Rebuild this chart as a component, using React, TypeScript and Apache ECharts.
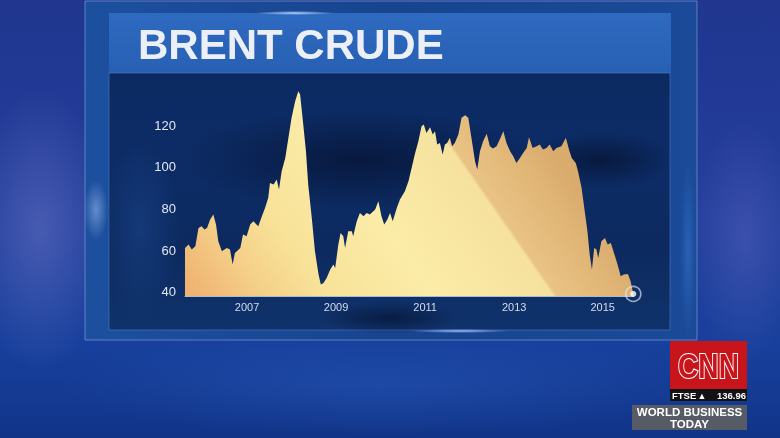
import React, { useEffect, useRef } from "react";
import * as echarts from "echarts";

// Brent crude price (USD/bbl), x = fractional year
const years = [
  2005.93, 2006.01, 2006.08, 2006.16, 2006.23, 2006.3, 2006.36, 2006.42, 2006.49, 2006.56,
  2006.62, 2006.67, 2006.75, 2006.86, 2006.93, 2006.99, 2007.04, 2007.16, 2007.22, 2007.3,
  2007.38, 2007.45, 2007.56, 2007.64, 2007.71, 2007.78, 2007.82, 2007.9, 2007.97, 2008.02,
  2008.08, 2008.16, 2008.23, 2008.3, 2008.38, 2008.45, 2008.49, 2008.56, 2008.62, 2008.67,
  2008.75, 2008.82, 2008.9, 2008.95, 2009.01, 2009.08, 2009.16, 2009.23, 2009.27, 2009.34,
  2009.39, 2009.45, 2009.49, 2009.56, 2009.64, 2009.67, 2009.75, 2009.82, 2009.9, 2009.97,
  2010.04, 2010.16, 2010.23, 2010.3, 2010.36, 2010.43, 2010.49, 2010.55, 2010.64, 2010.71,
  2010.82, 2010.9, 2010.97, 2011.04, 2011.12, 2011.19, 2011.24, 2011.3, 2011.38, 2011.44,
  2011.49, 2011.54, 2011.6, 2011.66, 2011.71, 2011.76, 2011.82, 2011.87, 2011.93, 2012.01,
  2012.08, 2012.16, 2012.23, 2012.3, 2012.38, 2012.43, 2012.49, 2012.56, 2012.64, 2012.71,
  2012.78, 2012.86, 2012.93, 2013.01, 2013.08, 2013.16, 2013.23, 2013.3, 2013.38, 2013.45,
  2013.53, 2013.58, 2013.66, 2013.75, 2013.82, 2013.89, 2013.97, 2014.04, 2014.12, 2014.19,
  2014.3, 2014.4, 2014.47, 2014.53, 2014.62, 2014.67, 2014.75, 2014.82, 2014.88, 2014.93,
  2014.98, 2015.03, 2015.08, 2015.12, 2015.19, 2015.27, 2015.33, 2015.4, 2015.47, 2015.55,
  2015.62, 2015.69, 2015.78, 2015.84, 2015.9,
];
const prices = [
  61.1, 62.7, 60.3, 61.9, 70.7, 71.5, 69.9, 70.7, 74.7, 77.1,
  72.3, 64.3, 59.5, 61.1, 60.3, 53.1, 58.7, 61.1, 67.5, 66.7,
  72.3, 73.9, 71.5, 76.3, 80.3, 85.1, 92.3, 91.5, 93.9, 89.1,
  97.9, 104.3, 114.0, 123.6, 131.5, 136.3, 134.7, 120.3, 107.5, 91.5,
  75.5, 59.5, 48.3, 43.5, 44.3, 46.7, 50.7, 53.1, 51.5, 62.7,
  68.3, 66.7, 61.1, 69.1, 69.1, 66.7, 73.9, 77.9, 76.3, 77.9,
  77.1, 79.5, 83.5, 76.3, 72.3, 74.7, 77.9, 73.9, 80.3, 84.3,
  88.3, 93.1, 99.5, 105.9, 112.3, 119.5, 120.3, 116.3, 119.0, 115.5,
  117.1, 110.7, 111.5, 105.9, 110.7, 111.5, 114.0, 109.9, 111.5, 115.5,
  123.6, 124.8, 123.6, 114.0, 102.7, 98.7, 107.5, 112.3, 115.9, 109.9,
  108.8, 109.9, 113.1, 117.1, 111.5, 107.5, 105.1, 101.9, 104.3, 106.7,
  109.1, 114.2, 109.1, 109.9, 110.7, 108.3, 109.1, 110.7, 107.5, 109.1,
  109.9, 114.0, 108.3, 104.3, 101.9, 97.9, 89.9, 78.7, 69.1, 57.9,
  50.7, 61.1, 60.3, 56.3, 64.3, 65.9, 62.7, 63.5, 58.7, 53.1,
  47.5, 48.3, 48.6, 45.1, 39.0,
];
const xTickLabels = ["2007", "2009", "2011", "2013", "2015"];
const xTickPositions = [2007.31, 2009.29, 2011.27, 2013.25, 2015.22];
const yTickValues = [40, 60, 80, 100, 120];

const FONT = "'Liberation Sans', Arial, Helvetica, sans-serif";

function radial(c0: string, c1: string) {
  return new echarts.graphic.RadialGradient(0.5, 0.5, 0.5, [
    { offset: 0, color: c0 },
    { offset: 1, color: c1 },
  ]);
}

export default function App() {
  const ref = useRef<HTMLDivElement>(null);

  useEffect(() => {
    if (!ref.current) return;
    const chart = echarts.init(ref.current, null, { renderer: "svg" });

    const data = years.map((y, i) => [y, prices[i]]);
    const last = data[data.length - 1];

    const areaFill = new echarts.graphic.LinearGradient(
      302.5, 473, 622.7, 250.3,
      [
        { offset: 0, color: "#efae6c" },
        { offset: 0.077, color: "#f1bb78" },
        { offset: 0.18, color: "#f5d088" },
        { offset: 0.308, color: "#f8e298" },
        { offset: 0.538, color: "#fbeca8" },
        { offset: 0.787, color: "#f6e19e" },
        { offset: 0.795, color: "#e9c385" },
        { offset: 0.897, color: "#e2b878" },
        { offset: 1, color: "#d9ab6c" },
      ],
      true
    );

    const bg: any[] = [
      // scene background
      {
        type: "rect", shape: { x: 0, y: 0, width: 780, height: 438 },
        style: {
          fill: new echarts.graphic.LinearGradient(0, 0, 0, 1, [
            { offset: 0, color: "#20368f" },
            { offset: 0.5, color: "#243f9c" },
            { offset: 0.8, color: "#17409c" },
            { offset: 1, color: "#113488" },
          ]),
        },
      },
      { type: "ellipse", shape: { cx: 40, cy: 230, rx: 70, ry: 140 }, style: { fill: radial("rgba(115,125,205,0.45)", "rgba(115,125,205,0)") } },
      { type: "ellipse", shape: { cx: 745, cy: 240, rx: 55, ry: 120 }, style: { fill: radial("rgba(95,105,195,0.4)", "rgba(95,105,195,0)") } },
      { type: "ellipse", shape: { cx: 380, cy: 385, rx: 320, ry: 50 }, style: { fill: radial("rgba(40,90,185,0.45)", "rgba(40,90,185,0)") } },
      // outer panel
      {
        type: "rect", shape: { x: 85, y: 1, width: 612, height: 339 },
        style: {
          fill: new echarts.graphic.LinearGradient(0, 0, 1, 0, [
            { offset: 0, color: "#1c509f" },
            { offset: 0.5, color: "#18448f" },
            { offset: 1, color: "#1a4a98" },
          ]),
          stroke: "rgba(150,175,230,0.55)", lineWidth: 1,
        },
      },
      { type: "ellipse", shape: { cx: 96, cy: 210, rx: 12, ry: 30 }, style: { fill: radial("rgba(160,190,240,0.55)", "rgba(160,190,240,0)") } },
      { type: "ellipse", shape: { cx: 688, cy: 250, rx: 8, ry: 90 }, style: { fill: radial("rgba(55,115,205,0.55)", "rgba(55,115,205,0)") } },
      // title bar
      {
        type: "rect", shape: { x: 109, y: 13, width: 562, height: 60 },
        style: {
          fill: new echarts.graphic.LinearGradient(0, 0, 0, 1, [
            { offset: 0, color: "#2e6ac0" },
            { offset: 1, color: "#2760b3" },
          ]),
        },
      },
      { type: "ellipse", shape: { cx: 295, cy: 13, rx: 40, ry: 2 }, style: { fill: radial("rgba(200,225,255,0.9)", "rgba(200,225,255,0)") } },
      // inner chart area
      {
        type: "rect", shape: { x: 109, y: 73, width: 561, height: 257 },
        style: {
          fill: new echarts.graphic.LinearGradient(0, 0, 0, 1, [
            { offset: 0, color: "#0c2a62" },
            { offset: 0.35, color: "#0d2c66" },
            { offset: 0.7, color: "#0c2a5f" },
            { offset: 1, color: "#10336c" },
          ]),
          stroke: "rgba(80,120,195,0.6)", lineWidth: 1,
        },
      },
      { type: "ellipse", shape: { cx: 360, cy: 160, rx: 180, ry: 50 }, style: { fill: radial("rgba(4,14,40,0.65)", "rgba(4,14,40,0)") } },
      { type: "ellipse", shape: { cx: 600, cy: 160, rx: 75, ry: 28 }, style: { fill: radial("rgba(4,14,40,0.65)", "rgba(4,14,40,0)") } },
      { type: "ellipse", shape: { cx: 390, cy: 318, rx: 70, ry: 16 }, style: { fill: radial("rgba(4,14,40,0.6)", "rgba(4,14,40,0)") } },
      { type: "ellipse", shape: { cx: 140, cy: 230, rx: 40, ry: 90 }, style: { fill: radial("rgba(30,75,150,0.45)", "rgba(30,75,150,0)") } },
      { type: "ellipse", shape: { cx: 460, cy: 331, rx: 50, ry: 2 }, style: { fill: radial("rgba(160,200,255,0.9)", "rgba(160,200,255,0)") } },
      // title
      {
        type: "text", x: 138, y: 44,
        style: { text: "BRENT CRUDE", fill: "#eceff5", font: `bold 42px ${FONT}`, verticalAlign: "middle", align: "left" },
      },
    ];

    const overlay: any[] = [
      { type: "rect", shape: { x: 670, y: 341, width: 77, height: 48 }, style: { fill: "#c8151c" } },
      {
        type: "text", x: 708.5, y: 366, scaleX: 0.78,
        style: {
          text: "CNN", fill: "#c8151c", stroke: "#ffffff", lineWidth: 2.2,
          font: `bold 36px ${FONT}`, align: "center", verticalAlign: "middle",
        },
      },
      { type: "rect", shape: { x: 670, y: 389, width: 77, height: 12 }, style: { fill: "#121212" } },
      { type: "text", x: 672, y: 395.5, style: { text: "FTSE", fill: "#ffffff", font: `bold 9.5px ${FONT}`, verticalAlign: "middle" } },
      { type: "text", x: 702, y: 395.5, style: { text: "▲", fill: "#ffffff", font: `bold 9px ${FONT}`, align: "center", verticalAlign: "middle" } },
      { type: "text", x: 746, y: 395.5, style: { text: "136.96", fill: "#ffffff", font: `bold 9.5px ${FONT}`, align: "right", verticalAlign: "middle" } },
      { type: "rect", shape: { x: 632, y: 405, width: 115, height: 25 }, style: { fill: "rgba(95,95,98,0.9)" } },
      { type: "text", x: 689.5, y: 412, style: { text: "WORLD BUSINESS", fill: "#ffffff", font: `bold 11.5px ${FONT}`, align: "center", verticalAlign: "middle" } },
      { type: "text", x: 689.5, y: 423.5, style: { text: "TODAY", fill: "#ffffff", font: `bold 11.5px ${FONT}`, align: "center", verticalAlign: "middle" } },
    ];

    chart.setOption({
      animation: false,
      backgroundColor: "transparent",
      graphic: [
        { type: "group", z: -10, children: bg },
        { type: "group", z: 50, children: overlay },
      ],
      grid: { left: 185, right: 780 - 633.3, top: 79.4, bottom: 142, containLabel: false },
      xAxis: {
        type: "value",
        min: years[0],
        max: years[years.length - 1],
        z: 10,
        axisLine: { show: true, lineStyle: { color: "rgba(215,222,236,0.8)", width: 1 } },
        axisTick: { show: false },
        splitLine: { show: false },
        axisLabel: {
          customValues: xTickPositions,
          formatter: (v: number) => {
            const i = xTickPositions.findIndex((p) => Math.abs(p - v) < 0.01);
            return i >= 0 ? xTickLabels[i] : "";
          },
          color: "#d4dcea",
          fontSize: 11,
          fontFamily: FONT,
          margin: 5,
        },
      },
      yAxis: {
        type: "value",
        min: 38,
        max: 142,
        z: 10,
        axisLine: { show: false },
        axisTick: { show: false },
        splitLine: { show: false },
        axisLabel: {
          customValues: yTickValues,
          color: "#e2e9f5",
          fontSize: 13,
          fontFamily: FONT,
          margin: 9,
        },
      },
      series: [
        {
          type: "line",
          data,
          z: 10,
          symbol: "none",
          showSymbol: false,
          lineStyle: { width: 0 },
          areaStyle: { color: areaFill, opacity: 1 },
        },
        {
          type: "scatter",
          z: 12,
          clip: false,
          data: [last],
          symbol: "circle",
          symbolSize: 15,
          itemStyle: { color: "rgba(0,0,0,0)", borderColor: "rgba(225,232,244,0.85)", borderWidth: 1.6 },
        },
        {
          type: "scatter",
          z: 13,
          clip: false,
          data: [last],
          symbol: "circle",
          symbolSize: 6,
          itemStyle: { color: "#ffffff" },
        },
      ],
    });

    return () => chart.dispose();
  }, []);

  return (
    <div
      ref={ref}
      style={{ position: "fixed", left: 0, top: 0, width: 780, height: 438 }}
    />
  );
}
